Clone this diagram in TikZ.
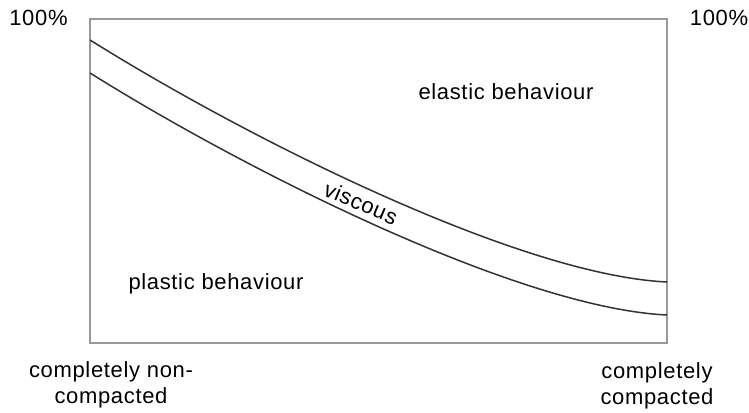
\documentclass[tikz,border=0pt]{standalone}
\usepackage{fontspec}
\setmainfont{Liberation Sans}[LetterSpace=3]
\begin{document}
\begin{tikzpicture}[x=1pt,y=-1pt,
  lbl/.style={font=\fontsize{22}{26}\selectfont, inner sep=0pt, align=center},
  frame/.style={draw=black!40, line width=2pt},
  curve/.style={draw=black!80, line width=1.5pt}]
\useasboundingbox (0,0) rectangle (749,412);
\draw[frame] (90,19) rectangle (667,343);
\draw[curve] (90,40) .. controls (250,140) and (520,275) .. (667,282);
\draw[curve] (90,73) .. controls (250,173) and (520,308) .. (667,315);
\node[lbl, anchor=base] (lt) at (38.5,26) {100\%};
\node[lbl, anchor=base] (rt) at (719,26) {100\%};
\node[lbl, anchor=base] (el) at (506,99) {elastic behaviour};
\node[lbl, anchor=base] (pl) at (216,289) {plastic behaviour};
\node[lbl, rotate=-23] (vi) at (361,203) {viscous};
\node[lbl, anchor=base] (nc) at (111,403) {completely non-\\compacted};
\node[lbl, anchor=base] (cc) at (657,404) {completely\\compacted};
\end{tikzpicture}
\end{document}
